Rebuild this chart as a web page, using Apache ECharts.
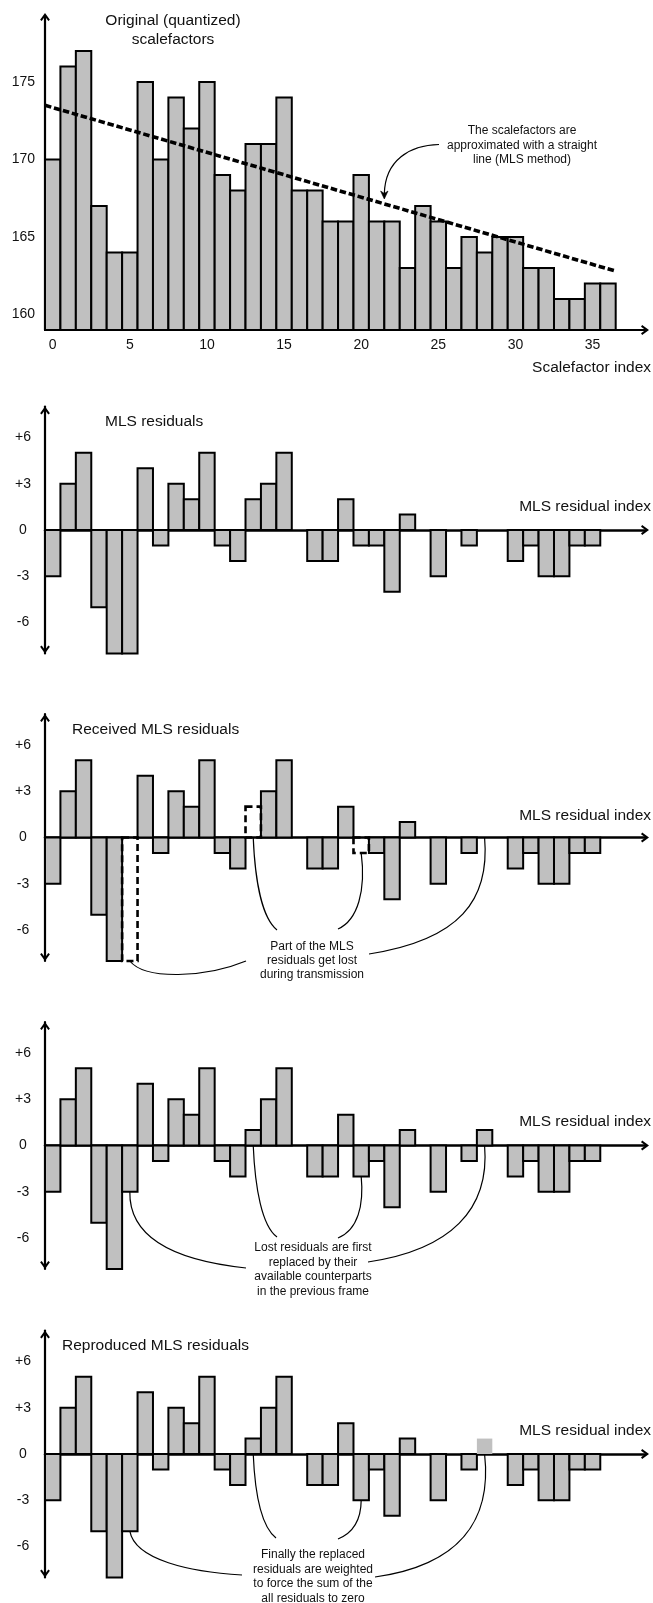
<!DOCTYPE html>
<html>
<head>
<meta charset="utf-8">
<script src="https://cdn.jsdelivr.net/npm/echarts/dist/echarts.min.js"></script>
<style>
html,body{margin:0;padding:0;background:#fff;}
#c{width:653px;height:1603px;}
</style>
</head>
<body>
<div id="c"></div>
<script>
// ---------------- DATA ----------------
const scalefactorIndex = [0,1,2,3,4,5,6,7,8,9,10,11,12,13,14,15,16,17,18,19,20,21,22,23,24,25,26,27,28,29,30,31,32,33,34,35,36];
const scalefactors = [170,176,177,167,164,164,175,170,174,172,175,169,168,171,171,174,168,168,166,166,169,166,166,163,167,166,163,165,164,165,165,163,163,161,161,162,162];
const mlsLineEnds = [173.5, 162.8];           // straight-line approximation at the left / right edge
const residualIndex = [0,1,2,3,4,5,6,7,8,9,10,11,12,13,14,15,16,17,18,19,20,21,22,23,24,25,26,27,28,29,30,31,32,33,34,35,36];
const residuals = [-3,3,5,-5,-8,-8,4,-1,3,2,5,-1,-2,2,3,5,0,-2,-2,2,-1,-1,-4,1,0,-3,0,-1,0,0,-2,-1,-3,-3,-1,-1,0];
const lostIndex = [5, 13, 20, 28];
const replacedValues = [-3, 1, -2, 1];
const reproducedValues = [-5, 1, -3, 1];
const unframedIndex = [28];
const xTickLabels = [0, 5, 10, 15, 20, 25, 30, 35];
const yTickLabelsTop = [160, 165, 170, 175];
const yTickLabelsRes = [-6, -3, 0, 3, 6];

// ---------------- DERIVED ----------------
const received = residuals.map((v, i) => lostIndex.includes(i) ? null : v);
const replaced = residuals.map((v, i) => { const k = lostIndex.indexOf(i); return k < 0 ? v : replacedValues[k]; });
const reproduced = residuals.map((v, i) => { const k = lostIndex.indexOf(i); return k < 0 ? v : reproducedValues[k]; });

const FONT = "'Liberation Sans', Arial, Helvetica, sans-serif";
const TXT = '#111';
const GRAY = '#c0c0c0';
const X_MIN = -0.5, X_MAX = 38.4;
const TOP_MIN = 159, TOP_MAX = 179.2;
const RES_MIN = -8, RES_MAX = 8;
const chevron = 'path://M5,0L10,7L8.4,8.2L5,3.6L1.6,8.2L0,7Z';

const grids = [
  {left: 45, top: 17, width: 600, height: 313},
  {left: 45, top: 406.5, width: 600, height: 247},
  {left: 45, top: 714, width: 600, height: 247},
  {left: 45, top: 1022, width: 600, height: 247},
  {left: 45, top: 1330.5, width: 600, height: 247}
].map(g => Object.assign({outerBoundsMode: 'none', containLabel: false}, g));

function xAxisCfg(g) {
  const top = g === 0;
  return {
    type: 'value', gridIndex: g, min: X_MIN, max: X_MAX, interval: 0.5,
    axisLine: {show: true, onZero: !top, symbol: ['none', chevron], symbolSize: [12, 8],
      lineStyle: {color: '#000', width: top ? 2.2 : 2.5}},
    axisTick: {show: false}, splitLine: {show: false},
    axisLabel: {show: top, margin: 8, fontSize: 14, color: TXT, fontFamily: FONT,
      formatter: v => xTickLabels.includes(v) ? String(v) : ''}
  };
}
function yAxisCfg(g) {
  const top = g === 0;
  return {
    type: 'value', gridIndex: g,
    min: top ? TOP_MIN : RES_MIN, max: top ? TOP_MAX : RES_MAX, interval: 1,
    axisLine: {show: true, onZero: false,
      symbol: top ? ['none', chevron] : [chevron, chevron], symbolSize: [12, 8],
      symbolOffset: top ? [0, 0] : [4, -4],
      lineStyle: {color: '#000', width: 2.2}},
    axisTick: {show: false}, splitLine: {show: false},
    axisLabel: top
      ? {margin: 10, fontSize: 14, color: TXT, fontFamily: FONT,
         formatter: v => yTickLabelsTop.includes(v) ? String(v) : ''}
      : {margin: 22, align: 'center', fontSize: 14, color: TXT, fontFamily: FONT,
         formatter: v => yTickLabelsRes.includes(v) ? (v > 0 ? '+' + v : String(v)) : ''}
  };
}

function barRender(base, style) {
  return function (params, api) {
    const v = api.value(1);
    if (v == null || isNaN(v) || v === base) return null;
    const i = api.value(0);
    const a = api.coord([i - 0.5, v]);
    const b = api.coord([i + 0.5, base]);
    return {
      type: 'rect',
      shape: {x: a[0], y: Math.min(a[1], b[1]), width: b[0] - a[0], height: Math.abs(b[1] - a[1])},
      style: style
    };
  };
}
const solidStyle = {fill: GRAY, stroke: '#000', lineWidth: 2};
const dashStyle = {fill: 'none', stroke: '#000', lineWidth: 2.6, lineDash: [7, 4]};
const unframedStyle = {fill: GRAY, stroke: null, lineWidth: 0};

function pairs(idx, vals, keep) {
  return idx.map((x, k) => [x, vals[k]]).filter((d, k) => d[1] !== null && (!keep || keep(idx[k])));
}
function barSeries(g, data, base, style, z) {
  return {type: 'custom', xAxisIndex: g, yAxisIndex: g, data: data, renderItem: barRender(base, style),
    encode: {x: 0, y: 1}, z: z || 2, silent: true, clip: false};
}

const series = [
  barSeries(0, pairs(scalefactorIndex, scalefactors), TOP_MIN, solidStyle),
  {type: 'line', xAxisIndex: 0, yAxisIndex: 0, symbol: 'none', silent: true, z: 5,
   data: [[scalefactorIndex[0] - 0.5, mlsLineEnds[0]], [scalefactorIndex[scalefactorIndex.length - 1] + 0.5, mlsLineEnds[1]]],
   lineStyle: {color: '#000', width: 3.6, type: [6.5, 2.8]}},
  barSeries(1, pairs(residualIndex, residuals), 0, solidStyle),
  barSeries(2, pairs(residualIndex, received), 0, solidStyle),
  barSeries(2, lostIndex.map(i => [i, residuals[i]]), 0, dashStyle, 4),
  barSeries(3, pairs(residualIndex, replaced), 0, solidStyle),
  barSeries(4, pairs(residualIndex, reproduced, i => !unframedIndex.includes(i)), 0, solidStyle),
  barSeries(4, unframedIndex.map(i => [i, reproduced[i]]), 0, unframedStyle)
];

function txt(x, y, t, size, align) {
  return {type: 'text', x: x, y: y, silent: true, z: 10,
    style: {text: t, fill: TXT, fontSize: size, fontFamily: FONT, align: align || 'center', verticalAlign: 'middle'}};
}
const texts = [
  txt(173, 21, 'Original (quantized)', 15.5),
  txt(173, 39.5, 'scalefactors', 15.5),
  txt(651, 368, 'Scalefactor index', 15.5, 'right'),
  txt(522, 131, 'The scalefactors are', 12),
  txt(522, 145.5, 'approximated with a straight', 12),
  txt(522, 160, 'line (MLS method)', 12),

  txt(105, 422, 'MLS residuals', 15.5, 'left'),
  txt(651, 507, 'MLS residual index', 15.5, 'right'),

  txt(72, 730, 'Received MLS residuals', 15.5, 'left'),
  txt(651, 815.5, 'MLS residual index', 15.5, 'right'),
  txt(312, 947, 'Part of the MLS', 12),
  txt(312, 961, 'residuals get lost', 12),
  txt(312, 975, 'during transmission', 12),

  txt(651, 1122, 'MLS residual index', 15.5, 'right'),
  txt(313, 1248, 'Lost residuals are first', 12),
  txt(313, 1262.5, 'replaced by their', 12),
  txt(313, 1277, 'available counterparts', 12),
  txt(313, 1291.5, 'in the previous frame', 12),

  txt(62, 1346, 'Reproduced MLS residuals', 15.5, 'left'),
  txt(651, 1431, 'MLS residual index', 15.5, 'right'),
  txt(313, 1555, 'Finally the replaced', 12),
  txt(313, 1569.5, 'residuals are weighted', 12),
  txt(313, 1584, 'to force the sum of the', 12),
  txt(313, 1598.5, 'all residuals to zero', 12)
];

const chart = echarts.init(document.getElementById('c'), null, {renderer: 'canvas'});
chart.setOption({
  animation: false,
  backgroundColor: '#fff',
  grid: grids,
  xAxis: grids.map((g, i) => xAxisCfg(i)),
  yAxis: grids.map((g, i) => yAxisCfg(i)),
  series: series
});

// connector curves: start anchored on the bars (via the axes), end near the notes
function curve(p0, c1, c2, p3) {
  return {type: 'bezierCurve', silent: true, z: 9,
    shape: {x1: p0[0], y1: p0[1], cpx1: c1[0], cpy1: c1[1], cpx2: c2[0], cpy2: c2[1], x2: p3[0], y2: p3[1]},
    style: {stroke: '#000', lineWidth: 1.2, fill: null}};
}
const px = (g, x, y) => chart.convertToPixel({gridIndex: g}, [x, y]);
const panelVals = {2: residuals, 3: replaced, 4: reproduced};
const ctrl = {
  2: [[[145, 980], [205, 978], [246, 961]], [[255, 880], [262, 918], [277, 930]], [[366, 890], [358, 920], [338, 929]], [[490, 900], [460, 940], [369, 954]]],
  3: [[[129, 1235], [170, 1260], [246, 1268]], [[255, 1188], [262, 1226], [277, 1237]], [[364, 1205], [358, 1230], [338, 1238]], [[490, 1210], [450, 1250], [368, 1262]]],
  4: [[[135, 1560], [190, 1572], [242, 1575]], [[255, 1496], [262, 1527], [276, 1538]], [[361, 1520], [353, 1533], [338, 1539]], [[492, 1520], [460, 1565], [375, 1577]]]
};
const curves = [];
[2, 3, 4].forEach(g => {
  lostIndex.forEach((i, k) => {
    const v = panelVals[g][i];
    const p0 = px(g, i, Math.min(v, 0));
    const c = ctrl[g][k];
    curves.push(curve(p0, c[0], c[1], c[2]));
  });
});
// arrow in top panel
curves.push(curve([439, 144.5], [410, 145], [385, 160], [384.3, 194]));
curves.push({type: 'polygon', silent: true, z: 9,
  shape: {points: [[380.6, 191], [384.3, 199], [388, 191], [384.3, 193.5]]},
  style: {fill: '#000', stroke: '#000', lineWidth: 0.6}});

chart.setOption({graphic: texts.concat(curves)});
</script>
</body>
</html>
